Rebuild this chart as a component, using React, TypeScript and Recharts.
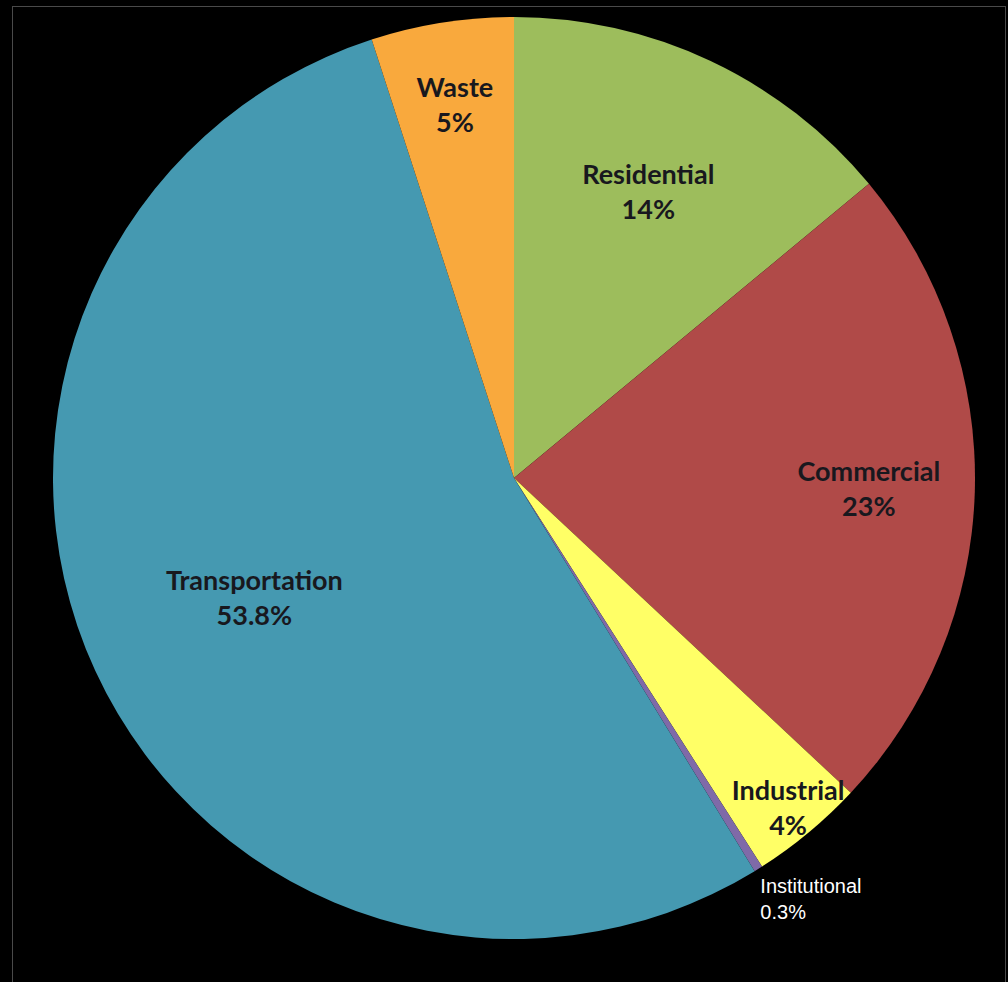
import React from 'react'
import { PieChart, Pie, Cell } from 'recharts'

const sectors = ['Residential', 'Commercial', 'Industrial', 'Institutional', 'Transportation', 'Waste']
const shares = [14, 23, 4, 0.3, 53.8, 5]
const shareLabels = ['14%', '23%', '4%', '0.3%', '53.8%', '5%']

const colors = ['#9dbd5c', '#b04a48', '#ffff66', '#7f6aa8', '#4599b1', '#f9a93d']
// how far from the centre each label sits, as a share of the radius
const labelDepth = [0.685, 0.77, 0.93, 1, 0.62, 0.82]

const data = sectors.map((name, i) => ({ name, value: shares[i], label: shareLabels[i] }))

const RAD = Math.PI / 180

const renderLabel = (props: any) => {
  const { cx, cy, outerRadius, midAngle, index } = props
  const item = data[index]
  const r = outerRadius * labelDepth[index]
  const x = cx + r * Math.cos(-midAngle * RAD)
  const y = cy - r * Math.sin(midAngle * RAD)
  if (item.name === 'Institutional') {
    return (
      <text x={x + 2} y={y} fill="#ffffff" fontFamily="Liberation Sans, Arial, sans-serif" fontSize={20}>
        <tspan x={x + 2} dy={24}>{item.name}</tspan>
        <tspan x={x + 2} dy={26}>{item.label}</tspan>
      </text>
    )
  }
  return (
    <text x={x} y={y} fill="#18181e" textAnchor="middle" fontFamily="Lato, sans-serif" fontWeight={700} fontSize={27}>
      <tspan x={x} dy={-8}>{item.name}</tspan>
      <tspan x={x} dy={35}>{item.label}</tspan>
    </text>
  )
}

export default function App() {
  return (
    <div style={{ position: 'fixed', left: 0, top: 0, width: 1008, height: 982, background: '#000', overflow: 'hidden' }}>
      <div style={{ position: 'absolute', left: 12, top: 6, width: 992, height: 1000, border: '1px solid #4a4a4a' }} />
      <PieChart
        width={1008}
        height={982}
        margin={{ top: 0, right: 0, bottom: 0, left: 0 }}
        style={{ position: 'absolute', left: 0, top: 0 }}
      >
        <Pie
          data={data}
          dataKey="value"
          nameKey="name"
          cx={514}
          cy={478}
          outerRadius={461}
          startAngle={90}
          endAngle={-270}
          stroke="none"
          label={renderLabel}
          labelLine={false}
          isAnimationActive={false}
        >
          {data.map((d, i) => (
            <Cell key={d.name} fill={colors[i]} />
          ))}
        </Pie>
      </PieChart>
    </div>
  )
}
